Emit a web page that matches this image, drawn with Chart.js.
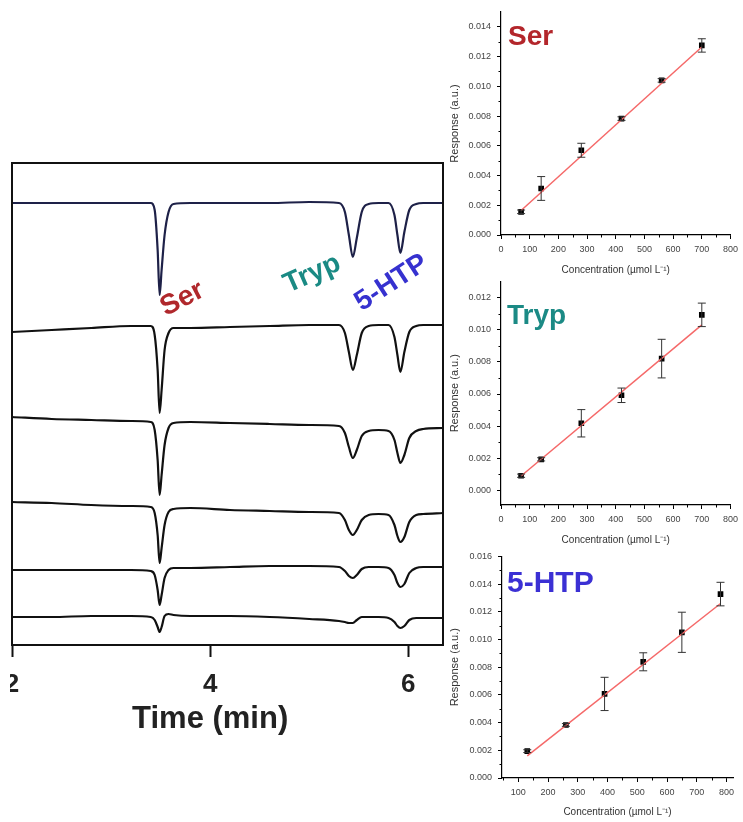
<!DOCTYPE html>
<html>
<head>
<meta charset="utf-8">
<script src="https://cdn.jsdelivr.net/npm/chart.js@4.4.0/dist/chart.umd.min.js"></script>
<style>
  body { margin: 0; background: #fff; width: 743px; height: 822px; position: relative; overflow: hidden; }
  canvas { position: absolute; }
</style>
</head>
<body>
<canvas id="canvas-ce" width="440" height="590" style="left:10px;top:150px"></canvas>
<canvas id="canvas-ser" width="303" height="280" style="left:440px;top:0"></canvas>
<canvas id="canvas-tryp" width="303" height="280" style="left:440px;top:270px"></canvas>
<canvas id="canvas-htp" width="303" height="277" style="left:440px;top:545px"></canvas>
<script>
Chart.defaults.font.family = "'Liberation Sans', Arial, sans-serif";
Chart.defaults.animation = false;

// electropherograms, migration time (min) vs signal (a.u., traces stacked top to bottom)
const times = [2.0, 2.4, 2.8, 3.2, 3.40, 3.44, 3.47, 3.49, 3.51, 3.54, 3.58, 3.63, 3.8, 4.2, 4.6, 5.0,
  5.30, 5.36, 5.40, 5.44, 5.48, 5.53, 5.60, 5.70, 5.80, 5.86, 5.89, 5.92, 5.96, 6.01, 6.08, 6.15, 6.35];
const trace1 = [442, 442, 442, 442, 442, 435, 395, 350, 375, 410, 433, 441, 442, 442, 442, 443,
  442, 433, 410, 388, 407, 433, 441, 442, 442, 430, 410, 392, 413, 435, 441, 442, 442];
const trace2 = [313, 315, 317, 319, 319, 310, 275, 232, 255, 295, 312, 317, 317, 318, 319, 320,
  320, 312, 293, 275, 290, 312, 319, 320, 320, 308, 290, 273, 293, 313, 319, 320, 320];
const trace3 = [228, 226, 225, 224, 223, 215, 185, 150, 170, 200, 217, 222, 223, 222, 221, 220,
  219, 212, 198, 187, 195, 209, 214, 215, 214, 205, 192, 182, 190, 207, 214, 216, 217];
const trace4 = [143, 142, 140, 139, 138, 132, 110, 82, 97, 120, 133, 136, 137, 135, 134, 133,
  132, 125, 115, 110, 115, 125, 130, 131, 130, 120, 109, 103, 108, 123, 130, 131, 132];
const trace5 = [75, 75, 75, 75, 74, 70, 55, 40, 50, 67, 75, 77, 77, 78, 79, 79,
  78, 74, 69, 67, 70, 76, 78, 78, 77, 70, 62, 58, 61, 72, 77, 78, 78];
const trace6 = [28, 28, 29, 29, 28, 25, 18, 13, 18, 29, 31, 30, 29, 29, 28, 26,
  24, 23, 22, 22, 25, 28, 28, 28, 27, 23, 19, 17, 19, 25, 27, 27, 27];
const timeTicks = [2, 4, 6];

// calibration curves
const serConc = [70, 140, 280, 420, 560, 700];
const serResp = [0.00156, 0.00313, 0.0057, 0.00783, 0.0104, 0.01275];
const serErr = [0.00012, 0.0008, 0.00047, 0.00012, 0.00012, 0.00045];
const serFitX = [70, 700];
const serFitY = [0.00165, 0.01265];

const trypConc = [70, 140, 280, 420, 560, 700];
const trypResp = [0.00092, 0.00194, 0.00418, 0.00592, 0.0082, 0.01092];
const trypErr = [0.0001, 0.0001, 0.00085, 0.00045, 0.0012, 0.00073];
const trypFitX = [70, 700];
const trypFitY = [0.0009, 0.0103];

const htpConc = [130, 260, 390, 520, 650, 780];
const htpResp = [0.00194, 0.00383, 0.00607, 0.00839, 0.01052, 0.01328];
const htpErr = [0.0001, 0.0001, 0.0012, 0.00065, 0.00145, 0.00085];
const htpFitX = [130, 780];
const htpFitY = [0.0016, 0.0126];

const concTicks = [0, 100, 200, 300, 400, 500, 600, 700, 800];
const htpConcTicks = [100, 200, 300, 400, 500, 600, 700, 800];
const serRespTicks = [0, 0.002, 0.004, 0.006, 0.008, 0.010, 0.012, 0.014];
const trypRespTicks = [0, 0.002, 0.004, 0.006, 0.008, 0.010, 0.012];
const htpRespTicks = [0, 0.002, 0.004, 0.006, 0.008, 0.010, 0.012, 0.014, 0.016];


const ceFrame = {
  id: 'ceFrame',
  afterDraw(chart) {
    const {ctx, chartArea: a, scales: {x, y}} = chart;
    ctx.save();
    ctx.strokeStyle = '#111';
    ctx.lineWidth = 2;
    ctx.strokeRect(a.left, a.top, a.right - a.left, a.bottom - a.top);
    const labels = [
      {text: 'Ser', color: '#b0282c', t: 3.72, s: 346, angle: -27},
      {text: 'Tryp', color: '#1a8a84', t: 5.03, s: 371, angle: -24},
      {text: '5-HTP', color: '#3631cf', t: 5.83, s: 362, angle: -33}
    ];
    ctx.font = "bold 28px 'Liberation Sans', Arial, sans-serif";
    ctx.textAlign = 'center';
    ctx.textBaseline = 'middle';
    labels.forEach(l => {
      ctx.save();
      ctx.translate(x.getPixelForValue(l.t), y.getPixelForValue(l.s));
      ctx.rotate(l.angle * Math.PI / 180);
      ctx.fillStyle = l.color;
      ctx.fillText(l.text, 0, 0);
      ctx.restore();
    });
    ctx.fillStyle = '#222';
    ctx.font = "bold 31px 'Liberation Sans', Arial, sans-serif";
    ctx.fillText('Time (min)', x.getPixelForValue(4), a.bottom + 74);
    ctx.restore();
  }
};

const chartCE = document.getElementById('canvas-ce');
const traces = [trace1, trace2, trace3, trace4, trace5, trace6];

new Chart(chartCE, {
  type: 'scatter',
  data: {
    datasets: traces.map((tr, k) => ({
      data: tr.map((v, i) => ({x: times[i], y: v})),
      showLine: true,
      pointRadius: 0,
      borderWidth: 2.2,
      borderColor: k === 0 ? '#1e2148' : '#111',
      cubicInterpolationMode: 'monotone',
      tension: 0.4
    }))
  },
  options: {
    responsive: false,
    layout: { padding: { left: 2, right: 7, top: 13, bottom: 0 } },
    plugins: { legend: { display: false }, tooltip: { enabled: false } },
    scales: {
      x: {
        type: 'linear',
        min: 2, max: 6.35,
        afterBuildTicks: (s) => { s.ticks = timeTicks.map(v => ({value: v})); },
        afterFit: (s) => { s.height = 95; s.paddingLeft = 0; s.paddingRight = 0; },
        grid: { drawOnChartArea: false, tickLength: 12, tickColor: '#111', tickWidth: 2 },
        border: { color: '#111', width: 2 },
        ticks: { color: '#222', padding: 12, font: { size: 26, weight: 'bold' } }
      },
      y: { display: false, min: 0, max: 482 }
    }
  },
  plugins: [ceFrame]
});


const calibExtras = {
  id: 'calibExtras',
  afterDraw(chart, args, opts) {
    const {ctx, chartArea: a, scales: {x, y}} = chart;
    ctx.save();
    // error bars
    const pts = chart.data.datasets[1];
    ctx.strokeStyle = '#333';
    ctx.lineWidth = 1;
    ctx.beginPath();
    pts.data.forEach((p, i) => {
      const e = pts.errors[i];
      const px = x.getPixelForValue(p.x);
      const top = y.getPixelForValue(p.y + e);
      const bot = y.getPixelForValue(p.y - e);
      ctx.moveTo(px, top); ctx.lineTo(px, bot);
      ctx.moveTo(px - 4, top); ctx.lineTo(px + 4, top);
      ctx.moveTo(px - 4, bot); ctx.lineTo(px + 4, bot);
    });
    ctx.stroke();
    // minor ticks
    ctx.strokeStyle = '#000';
    ctx.beginPath();
    const xs = x.ticks[1].value - x.ticks[0].value;
    for (let v = x.ticks[0].value - xs / 2; v < x.max; v += xs) {
      if (v <= x.min) continue;
      const px = Math.round(x.getPixelForValue(v)) + 0.5;
      ctx.moveTo(px, a.bottom); ctx.lineTo(px, a.bottom + 2.5);
    }
    const ys = y.ticks[1].value - y.ticks[0].value;
    for (let v = y.ticks[0].value - ys / 2; v < y.max; v += ys) {
      if (v <= y.min) continue;
      const py = Math.round(y.getPixelForValue(v)) + 0.5;
      ctx.moveTo(a.left, py); ctx.lineTo(a.left - 2.5, py);
    }
    ctx.stroke();
    // compound label
    ctx.font = "bold " + opts.size + "px 'Liberation Sans', Arial, sans-serif";
    ctx.fillStyle = opts.color;
    ctx.textAlign = 'left';
    ctx.textBaseline = 'alphabetic';
    ctx.fillText(opts.text, a.left + opts.dx, a.top + opts.dy);
    ctx.restore();
  }
};

function calibChart(id, conc, resp, errs, fitX, fitY, xRange, yRange, xTicks, yTicks, yWidth, xHeight, padTop, label) {
  return new Chart(document.getElementById(id), {
    type: 'scatter',
    data: {
      datasets: [{
        data: fitX.map((v, i) => ({x: v, y: fitY[i]})),
        showLine: true,
        pointRadius: 0,
        borderColor: 'rgb(245, 105, 105)',
        borderWidth: 1.5
      }, {
        data: conc.map((v, i) => ({x: v, y: resp[i]})),
        errors: errs,
        pointStyle: 'rect',
        pointRadius: 4,
        backgroundColor: '#000',
        borderColor: '#000',
        borderWidth: 0
      }]
    },
    options: {
      responsive: false,
      layout: { padding: { left: 0, right: 10, top: padTop, bottom: 0 } },
      plugins: {
        legend: { display: false },
        tooltip: { enabled: false },
        calibExtras: label
      },
      scales: {
        x: {
          type: 'linear',
          min: xRange[0], max: xRange[1],
          afterBuildTicks: (s) => { s.ticks = xTicks.map(v => ({value: v})); },
          afterFit: (s) => { s.height = xHeight; },
          grid: { drawOnChartArea: false, tickLength: 4, tickColor: '#000' },
          border: { color: '#000', width: 1.2 },
          ticks: { color: '#444', padding: 5, font: { size: 9 } },
          title: { display: true, text: 'Concentration (µmol L⁻¹)', color: '#333', font: { size: 10 }, padding: { top: 2, bottom: 4 } }
        },
        y: {
          min: yRange[0], max: yRange[1],
          afterBuildTicks: (s) => { s.ticks = yTicks.map(v => ({value: v})); },
          afterFit: (s) => { s.width = yWidth; },
          grid: { drawOnChartArea: false, tickLength: 4, tickColor: '#000' },
          border: { color: '#000', width: 1.2 },
          ticks: { color: '#444', padding: 6, font: { size: 9 }, callback: (v) => v.toFixed(3) },
          title: { display: true, text: 'Response (a.u.)', color: '#333', font: { size: 11 }, padding: { top: 8, bottom: 0 } }
        }
      }
    },
    plugins: [calibExtras]
  });
}

calibChart('canvas-ser', serConc, serResp, serErr, serFitX, serFitY, [0, 800], [0, 0.015],
  concTicks, serRespTicks, 61, 45, 12, {text: 'Ser', color: '#b3262b', size: 28, dx: 7, dy: 33});
calibChart('canvas-tryp', trypConc, trypResp, trypErr, trypFitX, trypFitY, [0, 800], [-0.0009, 0.013],
  concTicks, trypRespTicks, 61, 45, 7, {text: 'Tryp', color: '#1b8a85', size: 28, dx: 6, dy: 43});
calibChart('canvas-htp', htpConc, htpResp, htpErr, htpFitX, htpFitY, [45, 822], [0, 0.016],
  htpConcTicks, htpRespTicks, 62, 44, 8, {text: '5-HTP', color: '#3b30d4', size: 30, dx: 5, dy: 36});
</script>
</body>
</html>
